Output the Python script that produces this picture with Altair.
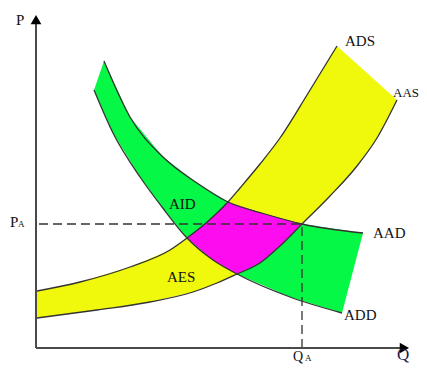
import altair as alt
import pandas as pd

# ---- curve data (Q, P) ----
ADS_Q = [1, 44, 94, 134, 151, 170, 181, 192, 204, 224, 244, 271, 301]
ADS_P = [57, 66, 81, 98, 110, 125, 135, 146, 160, 184, 210, 253, 302]
AAS_Q = [1, 61, 114, 157, 181, 201, 224, 244, 266, 294, 321, 341, 361]
AAS_P = [30, 38, 46, 56, 65, 74, 85, 102, 124, 152, 182, 210, 248]
AAD_Q = [68, 94, 127, 161, 192, 229, 266, 327]
AAD_P = [287, 231, 191, 165, 146, 134, 124, 115]
ADD_Q = [58, 77, 104, 126, 151, 177, 201, 254, 306]
ADD_P = [258, 215, 171, 141, 110, 88, 74, 51, 35]

# equilibrium (AAD x AAS)
EQ_Q = 266
EQ_P = 124
# other crossing points bounding the overlap region
X_ADS_ADD = 151
X_ADS_AAD = 192
X_ADD_AAS = 201

# axis extents
AXIS_Q = 373
AXIS_P = 333

FONT = "Liberation Serif"
TXT = "#111111"
YELLOW = "#F0F80C"
GREEN = "#05F845"
MAGENTA = "#FC0CEE"
LINE = "#333333"

xs = alt.Scale(domain=[0, 376], nice=False, zero=False)
ys = alt.Scale(domain=[0, 333], nice=False, zero=False)


def frame(qs, ps):
    return pd.DataFrame({"i": list(range(len(qs))), "q": qs, "p": ps})


def seg(qs, ps, lo, hi, rev=False):
    pts = [(q, p) for q, p in zip(qs, ps) if lo <= q <= hi]
    if rev:
        pts = pts[::-1]
    return [a for a, _ in pts], [b for _, b in pts]


def enc(ch):
    return ch.encode(
        x=alt.X("q:Q", scale=xs, axis=None),
        y=alt.Y("p:Q", scale=ys, axis=None),
        order=alt.Order("i:Q"),
    )


# polygons
yq = ADS_Q + AAS_Q[::-1]
yp = ADS_P + AAS_P[::-1]
gq = AAD_Q + ADD_Q[::-1]
gp = AAD_P + ADD_P[::-1]

s1 = seg(ADS_Q, ADS_P, X_ADS_ADD, X_ADS_AAD)
s2 = seg(AAD_Q, AAD_P, X_ADS_AAD, EQ_Q)
s3 = seg(AAS_Q, AAS_P, X_ADD_AAS, EQ_Q, rev=True)
s4 = seg(ADD_Q, ADD_P, X_ADS_ADD, X_ADD_AAS, rev=True)
mq = s1[0] + s2[0] + s3[0] + s4[0]
mp = s1[1] + s2[1] + s3[1] + s4[1]

layers = []
for qs, ps, col in [(yq, yp, YELLOW), (gq, gp, GREEN), (mq, mp, MAGENTA)]:
    layers.append(enc(alt.Chart(frame(qs, ps)).mark_line(
        fill=col, strokeOpacity=0, interpolate="linear-closed")))

for qs, ps in [(ADS_Q, ADS_P), (AAS_Q, AAS_P), (AAD_Q, AAD_P), (ADD_Q, ADD_P)]:
    layers.append(enc(alt.Chart(frame(qs, ps)).mark_line(
        color=LINE, strokeWidth=1.3, interpolate="monotone")))

# dashed guides
dash = pd.DataFrame({"q": [0], "q2": [EQ_Q], "p": [EQ_P], "p0": [0]})
layers.append(alt.Chart(dash).mark_rule(color=LINE, strokeWidth=1.3, strokeDash=[9, 5], xOffset=3).encode(
    x=alt.X("q:Q", scale=xs, axis=None), x2="q2:Q", y=alt.Y("p:Q", scale=ys, axis=None)))
layers.append(alt.Chart(dash).mark_rule(color=LINE, strokeWidth=1.3, strokeDash=[9, 5]).encode(
    x=alt.X("q2:Q", scale=xs, axis=None), y=alt.Y("p0:Q", scale=ys, axis=None), y2="p:Q"))

# axes
ax = pd.DataFrame({"o": [0], "qe": [AXIS_Q - 8], "pe": [AXIS_P - 8], "qt": [AXIS_Q], "pt": [AXIS_P]})
layers.append(alt.Chart(ax).mark_rule(color="#4a4a4a", strokeWidth=2).encode(
    x=alt.X("o:Q", scale=xs, axis=None), y=alt.Y("o:Q", scale=ys, axis=None), y2="pe:Q"))
layers.append(alt.Chart(ax).mark_rule(color="#4a4a4a", strokeWidth=2).encode(
    x=alt.X("o:Q", scale=xs, axis=None), x2="qe:Q", y=alt.Y("o:Q", scale=ys, axis=None)))
layers.append(alt.Chart(ax).mark_point(shape="triangle-up", size=115, filled=True, color="#000000",
                                       opacity=1, yOffset=4.6).encode(
    x=alt.X("o:Q", scale=xs, axis=None), y=alt.Y("pt:Q", scale=ys, axis=None)))
layers.append(alt.Chart(ax).mark_point(shape="triangle-right", size=115, filled=True, color="#000000",
                                       opacity=1, xOffset=-4.6).encode(
    x=alt.X("qt:Q", scale=xs, axis=None), y=alt.Y("o:Q", scale=ys, axis=None)))


def txt(text, q, p, size=15, dx=0, dy=0, color=TXT):
    d = pd.DataFrame({"q": [q], "p": [p], "t": [text]})
    return alt.Chart(d).mark_text(font=FONT, fontSize=size, align="left", baseline="alphabetic",
                                  dx=dx, dy=dy, color=color).encode(
        x=alt.X("q:Q", scale=xs, axis=None), y=alt.Y("p:Q", scale=ys, axis=None), text="t:N")


# curve end labels
layers.append(txt("ADS", ADS_Q[-1], ADS_P[-1], dx=8, dy=0))
layers.append(txt("AAS", AAS_Q[-1], AAS_P[-1], size=13, dx=-4, dy=-3))
layers.append(txt("AAD", AAD_Q[-1], AAD_P[-1], dx=10, dy=5))
layers.append(txt("ADD", ADD_Q[-1], ADD_P[-1], dx=2, dy=7))
# region labels
layers.append(txt("AID", 133, 139))
layers.append(txt("AES", 131, 66))
# axis labels
layers.append(txt("P", 0, AXIS_P, dx=-20, dy=10))
layers.append(txt("P", 0, EQ_P, dx=-26, dy=3))
layers.append(txt("A", 0, EQ_P, size=9, dx=-18, dy=3))
layers.append(txt("Q", EQ_Q, 0, size=14, dx=-9, dy=13))
layers.append(txt("A", EQ_Q, 0, size=9, dx=3, dy=13))
layers.append(txt("Q", AXIS_Q, 0, size=17, dx=-12, dy=12, color="#1b1b4b"))

chart = alt.layer(*layers).properties(
    width=376, height=333,
    padding={"left": 28, "top": 7, "right": 7, "bottom": 16},
    autosize=alt.AutoSizeParams(type="none"),
).configure_view(strokeWidth=0)

chart.save("out.html", embed_options={"renderer": "svg", "actions": False})
